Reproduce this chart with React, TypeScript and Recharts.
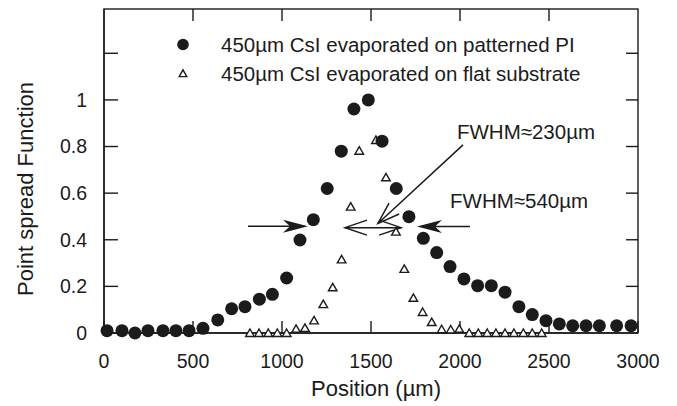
import React from 'react';
import {
  ScatterChart, Scatter, XAxis, YAxis, ReferenceLine, ReferenceDot, ReferenceArea, Legend, Label,
} from 'recharts';

const FONT = '"Liberation Sans", Arial, Helvetica, sans-serif';
const INK = '#1b1b1b';

// filled circles: 450µm CsI evaporated on patterned PI
const patternedPos = [17, 101, 174, 247, 331, 404, 478, 556, 639, 717, 792, 873, 946, 1026, 1101, 1176, 1254, 1333, 1404, 1485, 1562, 1642, 1713, 1794, 1869, 1944, 2022, 2099, 2176, 2253, 2331, 2406, 2483, 2558, 2633, 2708, 2783, 2880, 2961];
const patternedPsf = [0.01, 0.01, 0, 0.01, 0.01, 0.01, 0.01, 0.02, 0.056, 0.104, 0.113, 0.145, 0.166, 0.236, 0.399, 0.486, 0.62, 0.78, 0.961, 1.0, 0.823, 0.62, 0.499, 0.406, 0.345, 0.285, 0.232, 0.203, 0.203, 0.175, 0.113, 0.079, 0.053, 0.039, 0.031, 0.031, 0.031, 0.031, 0.031];

// open triangles: 450µm CsI evaporated on flat substrate
const flatPos = [820, 871, 923, 974, 1026, 1079, 1129, 1180, 1232, 1285, 1335, 1386, 1434, 1483, 1528, 1584, 1640, 1687, 1738, 1790, 1841, 1897, 1948, 1996, 2052, 2103, 2153, 2202, 2253, 2303, 2356, 2406, 2459];
const flatPsf = [0, 0, 0, 0, 0, 0.018, 0.022, 0.054, 0.124, 0.196, 0.316, 0.542, 0.782, 1.0, 0.828, 0.668, 0.435, 0.275, 0.151, 0.09, 0.047, 0.016, 0.015, 0.018, 0, 0, 0, 0, 0, 0, 0, 0, 0];

const seriesNames = ['450µm CsI evaporated on patterned PI', '450µm CsI evaporated on flat substrate'];

const xTicks = [0, 500, 1000, 1500, 2000, 2500, 3000];
const xInnerTicks = [500, 1000, 1500, 2000, 2500];
const yTicks = [0, 0.2, 0.4, 0.6, 0.8, 1, 1.2];
const yInnerTicks = [0.2, 0.4, 0.6, 0.8, 1, 1.2];
const xDomain = [0, 3000];
const yDomain = [0, 1.39];

// annotation anchors, in data units
const fwhmNarrow = { text: 'FWHM≈230µm', x: 1983, y: 0.864 };
const fwhmWide = { text: 'FWHM≈540µm', x: 1944, y: 0.568 };
const leftArrow = [{ x: 809, y: 0.458 }, { x: 1146, y: 0.458 }];
const rightArrow = [{ x: 2056, y: 0.457 }, { x: 1758, y: 0.457 }];
const widthArrow = [{ x: 1354, y: 0.452 }, { x: 1669, y: 0.452 }];
const pointerArrow = [{ x: 2017, y: 0.807 }, { x: 1539, y: 0.47 }];

const patternedData = patternedPos.map((x, i) => ({ x, y: patternedPsf[i] }));
const flatData = flatPos.map((x, i) => ({ x, y: flatPsf[i] }));

const Dot = ({ cx, cy }: any) => <circle cx={cx} cy={cy} r={6.5} fill={INK} />;

const Tri = ({ cx, cy }: any) => (
  <polygon
    points={`${cx},${cy - 4} ${cx + 4.3},${cy + 3.5} ${cx - 4.3},${cy + 3.5}`}
    fill="white" stroke={INK} strokeWidth={1.4} strokeLinejoin="miter"
  />
);

const openHead = (tx: number, ty: number, ux: number, uy: number) => {
  const L = 22, s = 0.34;
  const nx = -uy, ny = ux;
  const bx = tx - ux * L, by = ty - uy * L;
  return `M${bx + nx * L * s},${by + ny * L * s} L${tx},${ty} L${bx - nx * L * s},${by - ny * L * s}`;
};

const makeArrow = (kind: 'filled' | 'open' | 'double') => (p: any) => {
  const { x1, y1, x2, y2 } = p;
  const len = Math.hypot(x2 - x1, y2 - y1) || 1;
  const ux = (x2 - x1) / len, uy = (y2 - y1) / len;
  const nx = -uy, ny = ux;
  if (kind === 'filled') {
    const L = 25, w = 6.5, notch = 7;
    const bx = x2 - ux * L, by = y2 - uy * L;
    const mx = x2 - ux * (L - notch), my = y2 - uy * (L - notch);
    return (
      <g>
        <line x1={x1} y1={y1} x2={mx} y2={my} stroke={INK} strokeWidth={1.5} />
        <polygon points={`${x2},${y2} ${bx + nx * w},${by + ny * w} ${mx},${my} ${bx - nx * w},${by - ny * w}`} fill={INK} />
      </g>
    );
  }
  return (
    <g fill="none" stroke={INK} strokeWidth={1.5}>
      <line x1={x1} y1={y1} x2={x2} y2={y2} />
      <path d={openHead(x2, y2, ux, uy)} />
      {kind === 'double' && <path d={openHead(x1, y1, -ux, -uy)} />}
    </g>
  );
};

// frame around the full domain, with inward ticks on its top and right edges
const FrameShape = (p: any) => {
  const { x, y, width, height } = p;
  const px = (t: number) => x + (width * (t - xDomain[0])) / (xDomain[1] - xDomain[0]);
  const py = (t: number) => y + (height * (yDomain[1] - t)) / (yDomain[1] - yDomain[0]);
  return (
    <g stroke={INK} strokeWidth={1.4} fill="none">
      <rect x={x} y={y} width={width} height={height} />
      {xInnerTicks.map((t) => <line key={`tx${t}`} x1={px(t)} y1={y} x2={px(t)} y2={y + 12} />)}
      {yInnerTicks.map((t) => <line key={`ty${t}`} x1={x + width - 12} y1={py(t)} x2={x + width} y2={py(t)} />)}
    </g>
  );
};

const noteText = (text: string) => ({ cx, cy }: any) => (
  <text x={cx} y={cy} dy="0.36em" fontSize={20.5} fontFamily={FONT} fill={INK}>{text}</text>
);

const LegendBox = () => (
  <div style={{ fontFamily: FONT, fontSize: 20.5, color: INK, lineHeight: '29px' }}>
    {seriesNames.map((name, i) => (
      <div key={name} style={{ display: 'flex', alignItems: 'center', height: 29, whiteSpace: 'nowrap' }}>
        <svg width={50} height={29} style={{ flex: 'none' }}>
          {i === 0 ? <circle cx={12} cy={14.5} r={5.8} fill={INK} /> : (
            <polygon points="12,10.8 15.8,17.6 8.2,17.6" fill="white" stroke={INK} strokeWidth={1.4} />
          )}
        </svg>
        <span>{name}</span>
      </div>
    ))}
  </div>
);

const axisLine = { stroke: INK, strokeWidth: 1.4 };
const tickStyle = { fill: INK, fontSize: 19.5, fontFamily: FONT };

const App: React.FC = () => {
  return (
    <div style={{ position: 'absolute', left: 0, top: 0, width: 677, height: 406, background: '#ffffff' }}>
      <ScatterChart width={677} height={406} margin={{ top: 9, right: 39, bottom: 3, left: 44 }}>
        <XAxis
          type="number" dataKey="x" domain={xDomain} ticks={xTicks}
          orientation="bottom" height={70} tickSize={-12} tickMargin={33}
          axisLine={axisLine} tickLine={axisLine} tick={tickStyle}
        >
          <Label
            content={({ viewBox }: any) => (
              <text x={viewBox.x + viewBox.width / 2 + 5} y={viewBox.y + 63} textAnchor="middle"
                fontSize={22} fontFamily={FONT} fill={INK}>Position (µm)</text>
            )}
          />
        </XAxis>
        <YAxis
          type="number" dataKey="y" domain={yDomain} ticks={yTicks}
          orientation="left" width={60} tickSize={-14} tickMargin={31}
          tickFormatter={(v: number) => (v > 1.05 ? '' : String(v))}
          axisLine={axisLine} tickLine={axisLine} tick={tickStyle}
        >
          <Label
            content={({ viewBox }: any) => {
              const x = viewBox.x - 11;
              const y = viewBox.y + viewBox.height / 2 + 18;
              return (
                <text x={x} y={y} transform={`rotate(-90, ${x}, ${y})`} textAnchor="middle"
                  fontSize={22} fontFamily={FONT} fill={INK}>Point spread Function</text>
              );
            }}
          />
        </YAxis>
        <Legend
          layout="horizontal" verticalAlign="middle" align="center"
          wrapperStyle={{ top: 30, left: 171, width: 470, height: 58 }}
          content={() => <LegendBox />}
        />
        <ReferenceArea x1={xDomain[0]} x2={xDomain[1]} y1={yDomain[0]} y2={yDomain[1]}
          fill="none" fillOpacity={0} stroke={INK} strokeWidth={1.4} shape={FrameShape} />
        <Scatter name={seriesNames[1]} data={flatData}
          shape={(p: any) => <Tri {...p} />} isAnimationActive={false} />
        <Scatter name={seriesNames[0]} data={patternedData}
          shape={(p: any) => <Dot {...p} />} isAnimationActive={false} />
        <ReferenceLine segment={leftArrow} shape={makeArrow('filled')} />
        <ReferenceLine segment={rightArrow} shape={makeArrow('filled')} />
        <ReferenceLine segment={widthArrow} shape={makeArrow('double')} />
        <ReferenceLine segment={pointerArrow} shape={makeArrow('open')} />
        <ReferenceDot x={fwhmNarrow.x} y={fwhmNarrow.y} r={0} shape={noteText(fwhmNarrow.text)} />
        <ReferenceDot x={fwhmWide.x} y={fwhmWide.y} r={0} shape={noteText(fwhmWide.text)} />
      </ScatterChart>
    </div>
  );
};

export default App;
